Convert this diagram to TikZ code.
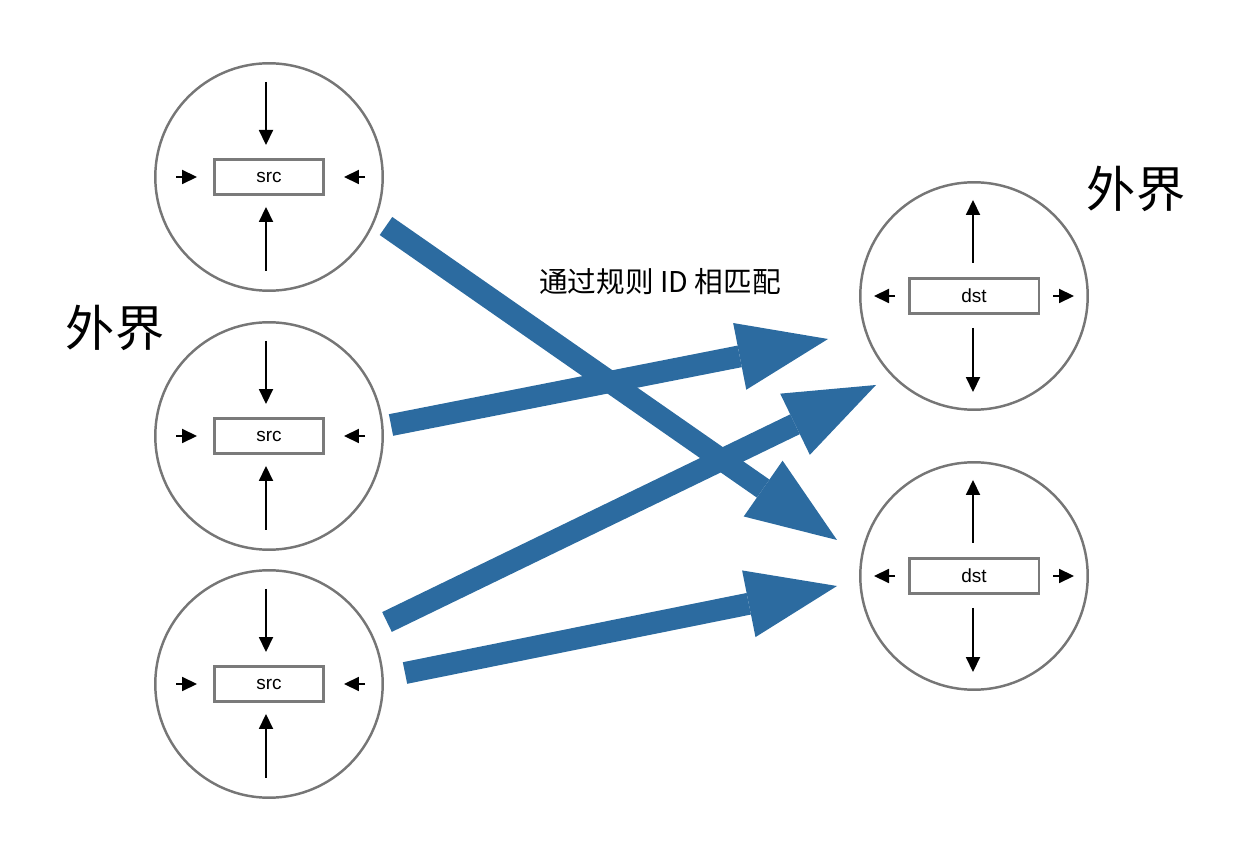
\documentclass[tikz,border=0pt]{standalone}
\usepackage{fontspec}
\setmainfont{Liberation Sans}
\newfontfamily\cjk{Noto Sans CJK SC}
\usetikzlibrary{arrows.meta,calc}
\definecolor{ringgray}{HTML}{767676}
\definecolor{boxgray}{HTML}{7A7A7A}
\definecolor{flowblue}{HTML}{2C6BA0}
\begin{document}
\begin{tikzpicture}[x=0.02cm,y=-0.02cm,
  ring/.style={circle,draw=ringgray,line width=1.4pt,minimum size=4.55cm,inner sep=0pt},
  srcbox/.style={rectangle,draw=boxgray,line width=1.7pt,minimum width=2.18cm,minimum height=0.70cm,inner sep=0pt,font=\fontsize{10.8}{12}\selectfont},
  dstbox/.style={rectangle,draw=boxgray,line width=1.7pt,minimum width=2.60cm,minimum height=0.69cm,inner sep=0pt,font=\fontsize{10.8}{12}\selectfont},
  tick/.style={line width=1.7pt,-{Triangle[length=0.3cm,width=0.29cm,line width=0pt]}},
  flow/.style={draw=flowblue,line width=0.44cm,-{Triangle[length=1.8cm,width=1.36cm,line width=0pt]}},
  bigtext/.style={font=\cjk\fontsize{28}{32}\selectfont,inner sep=0pt},
  labeltext/.style={font=\cjk\fontsize{16.3}{19}\selectfont,inner sep=0pt}]
\useasboundingbox (0,0) rectangle (1259,861);

% source circles
\foreach \n/\y in {s1/177,s2/436,s3/684}{
  \node[ring] (\n) at (269,\y) {};
  \node[srcbox] (\n b) at (269,\y) {\raisebox{-1.5pt}{src}};
  \coordinate (\n tt) at ($(\n)+(-3,-95)$);
  \coordinate (\n th) at ($(\n)+(-3,-32)$);
  \coordinate (\n bt) at ($(\n)+(-3,94)$);
  \coordinate (\n bh) at ($(\n)+(-3,30)$);
  \coordinate (\n lt) at ($(\n)+(-93,0)$);
  \coordinate (\n lh) at ($(\n)+(-72,0)$);
  \coordinate (\n rt) at ($(\n)+(96,0)$);
  \coordinate (\n rh) at ($(\n)+(75,0)$);
  \draw[tick] (\n tt) -- (\n th);
  \draw[tick] (\n bt) -- (\n bh);
  \draw[tick] (\n lt) -- (\n lh);
  \draw[tick] (\n rt) -- (\n rh);
}

% destination circles
\foreach \n/\y in {d1/296,d2/576}{
  \node[ring] (\n) at (974,\y) {};
  \node[dstbox] (\n b) at (974,\y) {dst};
  \coordinate (\n tt) at ($(\n)+(-1,-33)$);
  \coordinate (\n th) at ($(\n)+(-1,-96)$);
  \coordinate (\n bt) at ($(\n)+(-1,32)$);
  \coordinate (\n bh) at ($(\n)+(-1,96)$);
  \coordinate (\n lt) at ($(\n)+(-79,0)$);
  \coordinate (\n lh) at ($(\n)+(-100,0)$);
  \coordinate (\n rt) at ($(\n)+(79,0)$);
  \coordinate (\n rh) at ($(\n)+(100,0)$);
  \draw[tick] (\n tt) -- (\n th);
  \draw[tick] (\n bt) -- (\n bh);
  \draw[tick] (\n lt) -- (\n lh);
  \draw[tick] (\n rt) -- (\n rh);
}

% blue flow arrows
\coordinate (a1s) at (386,226);
\coordinate (a1e) at (837,540);
\coordinate (a2s) at (391,425);
\coordinate (a2e) at (828,339);
\coordinate (a3s) at (387,622);
\coordinate (a3e) at (876,385);
\coordinate (a4s) at (405,673);
\coordinate (a4e) at (837,586);
\draw[flow] (a1s) -- (a1e);
\draw[flow] (a2s) -- (a2e);
\draw[flow] (a3s) -- (a3e);
\draw[flow] (a4s) -- (a4e);

% texts
\node[bigtext] (outL) at (115,328) {外界};
\node[bigtext] (outR) at (1136,189) {外界};
\node[labeltext] (rule) at (660,282) {通过规则 ID 相匹配};
\end{tikzpicture}
\end{document}
